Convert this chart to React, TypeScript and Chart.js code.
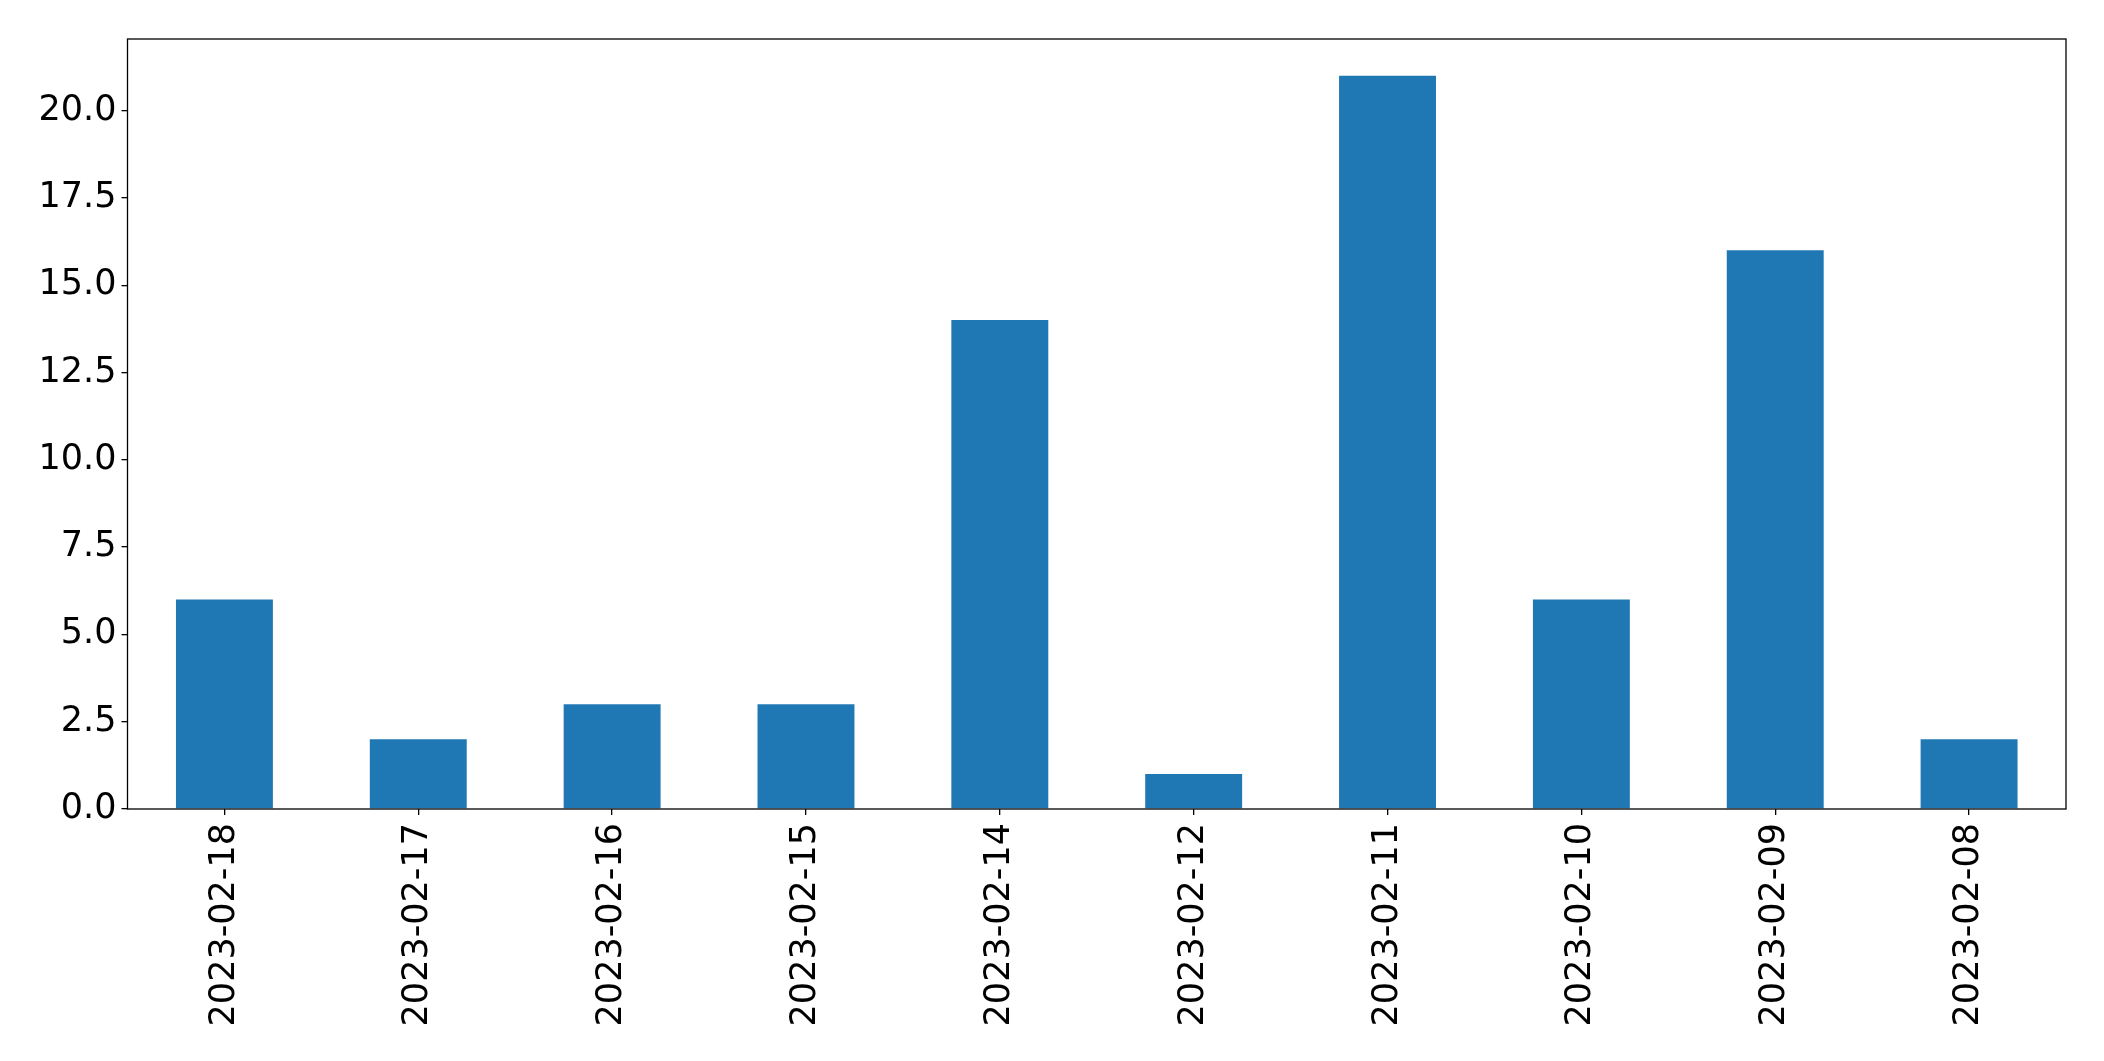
import React, { useEffect, useRef } from "react";
import { Chart, registerables } from "chart.js";

Chart.register(...registerables);

const categories = [
  "2023-02-18",
  "2023-02-17",
  "2023-02-16",
  "2023-02-15",
  "2023-02-14",
  "2023-02-12",
  "2023-02-11",
  "2023-02-10",
  "2023-02-09",
  "2023-02-08",
];
const values = [6, 2, 3, 3, 14, 1, 21, 6, 16, 2];
const yTicks = [0, 2.5, 5, 7.5, 10, 12.5, 15, 17.5, 20];

const W = 2104;
const H = 1061;

const framePlugin = {
  id: "frame",
  afterDraw(chart: any) {
    const { ctx, chartArea } = chart;
    ctx.save();
    ctx.strokeStyle = "#000";
    ctx.lineWidth = 1.3;
    ctx.strokeRect(chartArea.left, chartArea.top, chartArea.right - chartArea.left, chartArea.bottom - chartArea.top);
    ctx.restore();
  },
};

export default function App() {
  const ref = useRef<HTMLCanvasElement>(null);
  useEffect(() => {
    if (!ref.current) return;
    const font = { family: "'DejaVu Sans'", size: 35 };
    const chart = new Chart(ref.current, {
      type: "bar",
      data: {
        labels: categories,
        datasets: [
          {
            data: values,
            backgroundColor: "#1f77b4",
            categoryPercentage: 1,
            barPercentage: 0.5,
          },
        ],
      },
      options: {
        animation: false,
        responsive: false,
        maintainAspectRatio: false,
        layout: { padding: { top: 39, right: 38, left: 0, bottom: 0 } },
        plugins: { legend: { display: false }, tooltip: { enabled: false } },
        scales: {
          x: {
            offset: true,
            grid: { display: true, offset: false, drawOnChartArea: false, tickLength: 6, color: "#000", lineWidth: 1.3 },
            border: { display: false },
            ticks: { font, color: "#000", minRotation: 90, maxRotation: 90, padding: 8, autoSkip: false },
            afterFit: (s: any) => {
              s.height = H - 809;
            },
          },
          y: {
            min: 0,
            max: 22.05,
            grid: { display: true, drawOnChartArea: false, tickLength: 6, color: "#000", lineWidth: 1.3 },
            border: { display: false },
            afterBuildTicks: (s: any) => {
              s.ticks = yTicks.map((v) => ({ value: v }));
            },
            ticks: {
              font,
              color: "#000",
              padding: 5,
              callback: (v: any) => Number(v).toFixed(1),
            },
            afterFit: (s: any) => {
              s.width = 127.5;
            },
          },
        },
      },
      plugins: [framePlugin],
    });
    return () => chart.destroy();
  }, []);
  return (
    <div style={{ position: "fixed", left: 0, top: 0, width: W, height: H, background: "#fff" }}>
      <canvas ref={ref} width={W} height={H} style={{ width: W, height: H, display: "block" }} />
    </div>
  );
}
